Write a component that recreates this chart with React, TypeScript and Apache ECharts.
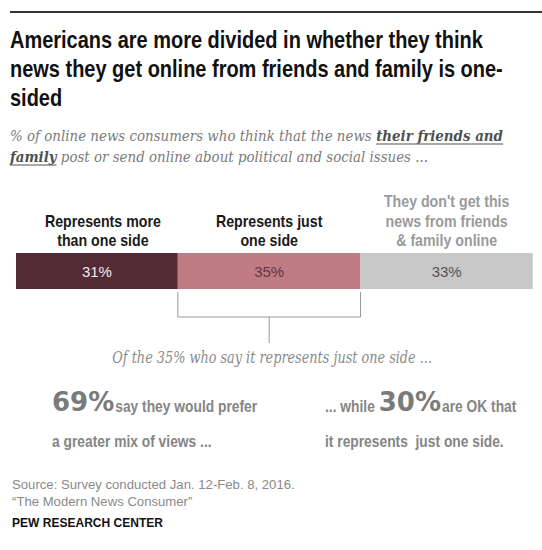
import React, { useEffect, useRef } from 'react';
import * as echarts from 'echarts';

const headlineLines = [
  'Americans are more divided in whether they think',
  'news they get online from friends and family is one-',
  'sided',
];
const subtitleLine1 = ['% of online news consumers who think that the news ', 'their friends and'];
const subtitleLine2 = ['family', ' post or send online about political and social issues ...'];
const segmentNames = [
  'Represents more\nthan one side',
  'Represents just\none side',
  "They don't get this\nnews from friends\n& family online",
];
const segmentValues = [31, 35, 33];
const followUpValues = [69, 30];
const followUpText = [
  ['say they would prefer', 'a greater mix of views ...'],
  ['are OK that', 'it represents  just one side.'],
];
const followUpLead = '... while ';
const sourceLines = ['Source: Survey conducted Jan. 12-Feb. 8, 2016.', '\u201CThe Modern News Consumer\u201D'];
const footer = 'PEW RESEARCH CENTER';

const SANS = "'Liberation Sans', Arial, sans-serif";
const SERIF = "'DejaVu Serif', 'Liberation Serif', serif";
const BIGFONT = "'DejaVu Sans', sans-serif";

function measure(text: string, font: string): number {
  const c = document.createElement('canvas');
  const ctx = c.getContext('2d')!;
  ctx.font = font;
  return ctx.measureText(text).width;
}

export default function App() {
  const ref = useRef<HTMLDivElement>(null);
  useEffect(() => {
    const chart = echarts.init(ref.current!, null, { renderer: 'svg' });
    const segColors = ['#532a35', '#c07b85', '#c8c8c8'];
    const labelColors = ['#f2e8ea', '#5e3840', '#555555'];
    const series = segmentValues.map((v, i) => ({
      type: 'bar',
      stack: 'total',
      name: segmentNames[i].replace(/\n/g, ' '),
      data: [v],
      barWidth: '100%',
      itemStyle: { color: segColors[i] },
      label: {
        show: true,
        position: 'inside',
        formatter: '{c}%',
        color: labelColors[i],
        fontSize: 15,
        fontFamily: SANS,
      },
    }));
    chart.setOption({
      animation: false,
      grid: { left: 16, top: 253, width: 522, height: 36 },
      xAxis: { type: 'value', min: 0, max: 100, show: false },
      yAxis: { type: 'category', data: ['all'], show: false },
      series,
    });

    let cum = 0;
    const bounds = segmentValues.map((v) => {
      const x0 = chart.convertToPixel({ xAxisIndex: 0 }, cum) as number;
      cum += v;
      const x1 = chart.convertToPixel({ xAxisIndex: 0 }, cum) as number;
      return [x0, x1];
    });

    const g: any[] = [];
    // top rule
    g.push({ type: 'line', shape: { x1: 10, y1: 12, x2: 542, y2: 12 }, style: { stroke: '#333', lineWidth: 2 } });

    // headline (condensed via scaleX)
    const hSize = 23;
    const hScale = 473 / measure(headlineLines[0], `bold ${hSize}px ${SANS}`);
    headlineLines.forEach((t, i) => {
      g.push({
        type: 'text', x: 10, y: 41 + i * 29, scaleX: hScale,
        style: { text: t, fontFamily: SANS, fontWeight: 'bold', fontSize: hSize, fill: '#111', verticalAlign: 'middle' },
      });
    });

    // subtitle
    const subSize = 15;
    const fontI = `italic ${subSize}px ${SERIF}`;
    const fontBI = `italic bold ${subSize}px ${SERIF}`;
    const rw1 = measure(subtitleLine1[0], fontI);
    const rw1b = measure(subtitleLine1[1], fontBI);
    const sScale = 493 / (rw1 + rw1b);
    const w1 = rw1 * sScale, w1b = rw1b * sScale;
    const w2b = measure(subtitleLine2[0], fontBI) * sScale;
    const subColor = '#7a7a7a';
    const subBold = '#505050';
    const sy1 = 136, sy2 = 157;
    const subStyle = { fontFamily: SERIF, fontStyle: 'italic', fontSize: subSize, verticalAlign: 'middle' };
    g.push({ type: 'text', x: 10, y: sy1, scaleX: sScale, style: { ...subStyle, text: subtitleLine1[0], fill: subColor } });
    g.push({ type: 'text', x: 10 + w1, y: sy1, scaleX: sScale, style: { ...subStyle, text: subtitleLine1[1], fontWeight: 'bold', fill: subBold } });
    g.push({ type: 'line', shape: { x1: 10 + w1, y1: sy1 + 8, x2: 10 + w1 + w1b, y2: sy1 + 8 }, style: { stroke: subBold, lineWidth: 1 } });
    g.push({ type: 'text', x: 10, y: sy2, scaleX: sScale, style: { ...subStyle, text: subtitleLine2[0], fontWeight: 'bold', fill: subBold } });
    g.push({ type: 'line', shape: { x1: 10, y1: sy2 + 8, x2: 10 + w2b, y2: sy2 + 8 }, style: { stroke: subBold, lineWidth: 1 } });
    g.push({ type: 'text', x: 10 + w2b, y: sy2, scaleX: sScale, style: { ...subStyle, text: subtitleLine2[1], fill: subColor } });

    // segment names above bar
    const cSize = 16;
    const cScale = 116 / measure('Represents more', `bold ${cSize}px ${SANS}`);
    segmentNames.forEach((name, i) => {
      const cx = (bounds[i][0] + bounds[i][1]) / 2 + (i === 0 ? 6 : 0);
      g.push({
        type: 'text', x: cx, y: 250, scaleX: cScale,
        style: {
          text: name, fontFamily: SANS, fontWeight: 'bold', fontSize: cSize, lineHeight: 19.5,
          fill: i === 2 ? '#9a9a9a' : '#1a1a1a', align: 'center', verticalAlign: 'bottom',
        },
      });
    });

    // bracket under "just one side"
    const [bx0, bx1] = bounds[1];
    const bmid = (bx0 + bx1) / 2;
    const bs = { stroke: '#9a9a9a', lineWidth: 1 };
    g.push({ type: 'polyline', shape: { points: [[bx0, 292], [bx0, 317], [bx1, 317], [bx1, 292]] }, style: { ...bs, fill: null } });
    g.push({ type: 'line', shape: { x1: bmid, y1: 317, x2: bmid, y2: 343 }, style: bs });
    const ofText = `Of the ${segmentValues[1]}% who say it represents just one side ...`;
    const oSize = 16;
    const oScale = 320 / measure(ofText, `italic ${oSize}px ${SERIF}`);
    g.push({
      type: 'text', x: bmid + 3, y: 357, scaleX: oScale,
      style: { ...subStyle, fontSize: oSize, text: ofText, fill: '#8a8a8a', align: 'center' },
    });

    // follow-up figures
    const bigColor = '#7a7a7a';
    const smallColor = '#858585';
    const bigSize = 26;
    const fSize = 16;
    const fScale = 142 / measure(followUpText[0][0], `bold ${fSize}px ${SANS}`);
    const smallStyle = { fontFamily: SANS, fontWeight: 'bold', fontSize: fSize, fill: smallColor };
    const bigStyle = { fontFamily: BIGFONT, fontWeight: 'bold', fontSize: bigSize, fill: bigColor, verticalAlign: 'bottom' };
    // left
    const leftX = 52;
    const big1 = `${followUpValues[0]}%`;
    const wBig1 = measure(big1, `bold ${bigSize}px ${BIGFONT}`);
    g.push({ type: 'text', x: leftX, y: 415, style: { ...bigStyle, text: big1 } });
    g.push({ type: 'text', x: leftX + wBig1 + 1, y: 414, scaleX: fScale, style: { ...smallStyle, text: followUpText[0][0], verticalAlign: 'bottom' } });
    g.push({ type: 'text', x: leftX, y: 441, scaleX: fScale, style: { ...smallStyle, text: followUpText[0][1], verticalAlign: 'middle' } });
    // right
    const rightX = 325;
    const wPre = measure(followUpLead, `bold ${fSize}px ${SANS}`) * fScale;
    const big2 = `${followUpValues[1]}%`;
    const wBig2 = measure(big2, `bold ${bigSize}px ${BIGFONT}`);
    g.push({ type: 'text', x: rightX, y: 414, scaleX: fScale, style: { ...smallStyle, text: followUpLead, verticalAlign: 'bottom' } });
    g.push({ type: 'text', x: rightX + wPre, y: 415, style: { ...bigStyle, text: big2 } });
    g.push({ type: 'text', x: rightX + wPre + wBig2 + 1, y: 414, scaleX: fScale, style: { ...smallStyle, text: followUpText[1][0], verticalAlign: 'bottom' } });
    g.push({ type: 'text', x: rightX, y: 441, scaleX: fScale, style: { ...smallStyle, text: followUpText[1][1], verticalAlign: 'middle' } });

    // source + footer
    const srcScale = 283 / measure(sourceLines[0], `13px ${SANS}`);
    sourceLines.forEach((t, i) => {
      g.push({ type: 'text', x: 12, y: 485 + i * 17, scaleX: srcScale, style: { text: t, fontFamily: SANS, fontSize: 13, fill: '#8a8a8a', verticalAlign: 'middle' } });
    });
    const pScale = 151 / measure(footer, `bold 13px ${SANS}`);
    g.push({ type: 'text', x: 12, y: 523, scaleX: pScale, style: { text: footer, fontFamily: SANS, fontWeight: 'bold', fontSize: 13, fill: '#111', verticalAlign: 'middle' } });

    chart.setOption({ graphic: g });
    return () => chart.dispose();
  }, []);
  return <div ref={ref} style={{ position: 'absolute', left: 0, top: 0, width: 542, height: 550, background: '#fff' }} />;
}
